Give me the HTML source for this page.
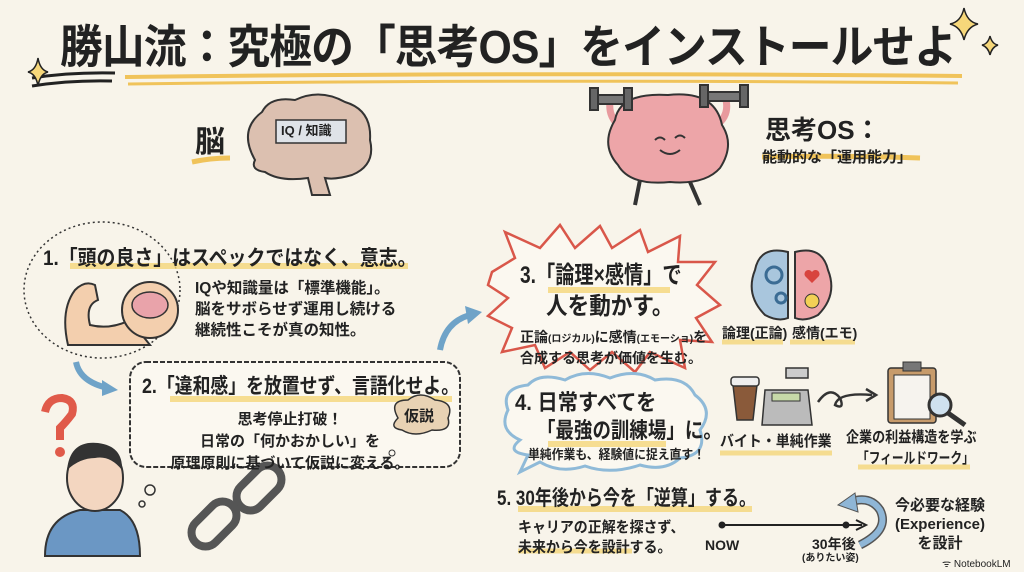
<!DOCTYPE html>
<html><head><meta charset="utf-8">
<style>
body{margin:0;width:1024px;height:572px;overflow:hidden;background:#f8f4ea;font-family:"Liberation Sans","Noto Sans CJK JP",sans-serif;color:#222;}
.t{position:absolute;white-space:nowrap;font-weight:bold;line-height:1;transform-origin:0 0;}
</style></head><body>
<svg width="1024" height="572" style="position:absolute;left:0;top:0">
<path d="M125 77 Q540 72 962 76" stroke="#f0c35a" stroke-width="4" fill="none"/>
<path d="M128 84 Q540 79 958 83" stroke="#f0c35a" stroke-width="3" fill="none"/>
<path d="M32 78 Q70 72 115 73" stroke="#222" stroke-width="3" fill="none"/>
<path d="M32 86 Q70 80 112 81" stroke="#222" stroke-width="3" fill="none"/>
<g fill="#f6d77a" stroke="#222" stroke-width="1.5">
<path d="M964 8 Q967 22 978 24 Q967 27 964 40 Q961 27 950 24 Q961 22 964 8Z"/>
<path d="M990 36 Q992 44 998 45 Q992 47 990 55 Q988 47 982 45 Q988 44 990 36Z"/>
<path d="M38 58 Q40 70 48 72 Q40 74 38 86 Q36 74 28 72 Q36 70 38 58Z"/>
</g>
<path d="M192 162 Q210 158 230 158" stroke="#f0c35a" stroke-width="5" fill="none"/>
<path d="M255 160 Q238 130 262 112 Q270 96 295 100 Q320 88 345 102 Q372 110 370 140 Q376 165 352 175 Q335 180 325 178 L330 195 L312 195 L308 178 Q280 182 265 172 Q250 170 255 160Z" fill="#dcc0b0" stroke="#333" stroke-width="2"/>
<rect x="276" y="120" width="70" height="23" fill="#dfe3e8" stroke="#333" stroke-width="1.5"/>
<g stroke="#333" stroke-width="2">
<path d="M622 128 Q608 118 610 102 M712 128 Q730 118 726 100" stroke-width="7" stroke="#e89a9e" fill="none"/>
<path d="M615 120 Q620 92 668 95 Q715 90 722 125 Q735 145 720 168 Q705 185 670 182 Q630 186 618 165 Q600 145 615 120Z" fill="#eda5a8"/>
<path d="M640 180 L635 205 M690 182 L700 205" fill="none" stroke-width="4"/>
<rect x="593" y="95" width="36" height="9" fill="#777"/>
<rect x="590" y="88" width="8" height="22" fill="#666"/><rect x="624" y="88" width="8" height="22" fill="#666"/>
<rect x="703" y="92" width="42" height="9" fill="#777"/>
<rect x="700" y="85" width="8" height="22" fill="#666"/><rect x="740" y="85" width="8" height="22" fill="#666"/>
</g>
<path d="M655 140 q5-5 10 0 M675 138 q5-5 10 0 M660 150 q10 8 20 0" stroke="#333" stroke-width="2" fill="none"/>
<path d="M762 157 Q840 155 920 158" stroke="#f0c35a" stroke-width="5" fill="none"/>
<ellipse cx="102" cy="290" rx="78" ry="68" fill="none" stroke="#333" stroke-width="1.5" stroke-dasharray="2 3"/>
<path d="M70 266 L408 266" stroke="#f5d77a" stroke-width="6" opacity=".8"/>
<path d="M68 345 Q60 310 75 290 Q85 280 95 285 L98 300 Q85 305 90 325 Q110 330 130 320 L150 345 Z" fill="#f3cfae" stroke="#333" stroke-width="2"/>
<circle cx="150" cy="310" r="28" fill="#f3cfae" stroke="#333" stroke-width="2"/>
<ellipse cx="150" cy="305" rx="18" ry="13" fill="#e9a3aa" stroke="#333" stroke-width="1.5"/>
<path d="M76 362 Q80 382 108 388" stroke="#6fa3c8" stroke-width="6" fill="none"/>
<path d="M102 380 L118 390 L102 396Z" fill="#6fa3c8"/>
<path d="M440 350 Q445 322 470 315" stroke="#6fa3c8" stroke-width="6" fill="none"/>
<path d="M465 306 L482 312 L468 324Z" fill="#6fa3c8"/>
<rect x="130" y="362" width="330" height="105" rx="16" fill="#fbf8f0" stroke="#333" stroke-width="2" stroke-dasharray="5 2"/>
<path d="M170 399 L452 399" stroke="#f5d77a" stroke-width="6" opacity=".8"/>
<path d="M398 418 Q388 400 408 400 Q420 390 435 400 Q455 402 448 418 Q452 432 432 430 Q415 438 402 430 Q388 428 398 418Z" fill="#e8d2b4" stroke="#333" stroke-width="1.5"/>
<circle cx="392" cy="453" r="3" fill="none" stroke="#333"/><circle cx="386" cy="460" r="2" fill="none" stroke="#333"/>
<path d="M45 412 Q48 398 62 398 Q76 400 72 414 Q66 422 60 428 L60 440" stroke="#e05a4a" stroke-width="8" fill="none"/>
<circle cx="60" cy="452" r="5" fill="#e05a4a"/>
<path d="M45 556 Q45 518 80 510 L120 510 Q140 520 140 556Z" fill="#6b97c4" stroke="#333" stroke-width="2"/>
<ellipse cx="95" cy="478" rx="28" ry="33" fill="#f3d6c0" stroke="#333" stroke-width="2"/>
<path d="M67 470 Q70 440 98 443 Q123 446 122 470 Q110 455 95 458 Q80 458 67 470Z" fill="#333"/>
<circle cx="150" cy="490" r="5" fill="none" stroke="#333" stroke-width="1.5"/><circle cx="142" cy="504" r="3" fill="none" stroke="#333" stroke-width="1.5"/>
<g fill="none" stroke="#555" stroke-width="8">
<rect x="245" y="462" width="28" height="52" rx="14" transform="rotate(45 259 488)"/>
<rect x="200" y="498" width="28" height="52" rx="14" transform="rotate(45 214 524)"/>
</g>
<path d="M492 272 L515 258 L505 232 L540 248 L560 225 L575 248 L600 226 L612 248 L640 230 L648 252 L680 236 L678 262 L715 262 L697 285 L720 305 L696 318 L712 342 L680 340 L685 368 L650 352 L635 372 L612 352 L590 370 L570 352 L545 368 L535 345 L502 352 L512 328 L488 316 L508 298 L488 285Z" fill="#fbf8f0" stroke="#d9574a" stroke-width="2.5"/>
<path d="M548 290 L670 290" stroke="#f5d77a" stroke-width="6" opacity=".8"/>
<path d="M788 252 Q760 245 755 270 Q745 295 765 315 Q778 322 788 318Z" fill="#a9c6dd" stroke="#333" stroke-width="2"/>
<path d="M795 252 Q822 245 828 270 Q838 295 818 315 Q805 322 795 318Z" fill="#eda5a8" stroke="#333" stroke-width="2"/>
<circle cx="774" cy="275" r="8" fill="none" stroke="#3b6c94" stroke-width="3"/>
<circle cx="781" cy="298" r="5" fill="none" stroke="#3b6c94" stroke-width="3"/>
<path d="M812 283 l-7-7 a4 4 0 0 1 7-4 a4 4 0 0 1 7 4z" fill="#d8443e"/>
<circle cx="812" cy="301" r="7" fill="#f2d055" stroke="#333" stroke-width="1"/>
<path d="M722 342 L783 342 M790 342 L855 342" stroke="#f5d77a" stroke-width="5" opacity=".8"/>
<path d="M520 440 Q498 430 508 410 Q500 388 528 385 Q540 372 565 380 Q585 368 610 378 Q635 368 655 380 Q685 375 695 395 Q715 410 700 430 Q708 455 680 458 Q665 472 640 465 Q610 475 585 466 Q560 474 540 462 L520 472 L528 455 Q505 452 520 440Z" fill="#fbf8f0" stroke="#8fbad8" stroke-width="3"/>
<path d="M548 444 L666 444" stroke="#f5d77a" stroke-width="6" opacity=".8"/>
<path d="M733 385 L757 385 L753 420 L737 420Z" fill="#8a5a3a" stroke="#333" stroke-width="1.5"/>
<rect x="731" y="377" width="28" height="9" rx="3" fill="#eee" stroke="#333" stroke-width="1.5"/>
<path d="M765 390 L808 390 L812 425 L762 425Z" fill="#bbb" stroke="#333" stroke-width="1.5"/>
<rect x="786" y="368" width="22" height="10" fill="#ccc" stroke="#333" stroke-width="1.5"/>
<rect x="772" y="393" width="28" height="8" fill="#c6d9a8" stroke="#333" stroke-width="1"/>
<path d="M720 453 L832 453" stroke="#f5d77a" stroke-width="5" opacity=".8"/>
<path d="M818 402 Q830 385 840 398 Q845 410 835 405 Q838 392 872 395" stroke="#333" stroke-width="2.5" fill="none"/>
<path d="M866 389 L876 395 L866 401" stroke="#333" stroke-width="2.5" fill="none"/>
<rect x="888" y="368" width="48" height="55" rx="3" fill="#c79b6b" stroke="#333" stroke-width="1.5"/>
<rect x="894" y="375" width="36" height="44" fill="#f6f3ee" stroke="#333" stroke-width="1"/>
<rect x="903" y="362" width="18" height="9" fill="#777" stroke="#333"/>
<circle cx="940" cy="405" r="11" fill="#cfe1ef" stroke="#333" stroke-width="3"/>
<path d="M948 413 L965 425" stroke="#333" stroke-width="5"/>
<path d="M858 467 L970 467" stroke="#f5d77a" stroke-width="5" opacity=".8"/>
<path d="M518 509 L752 509" stroke="#f5d77a" stroke-width="6" opacity=".8"/>
<path d="M518 551 L632 551" stroke="#f5d77a" stroke-width="5" opacity=".8"/>
<path d="M722 525 L862 525" stroke="#222" stroke-width="2"/>
<path d="M856 520 L866 525 L856 530" stroke="#222" stroke-width="2" fill="none"/>
<circle cx="722" cy="525" r="3.5" fill="#222"/><circle cx="846" cy="525" r="3.5" fill="#222"/>
<path d="M860 545 Q890 530 880 510 Q870 495 850 502" stroke="#555" stroke-width="9" fill="none"/>
<path d="M860 545 Q890 530 880 510 Q870 495 850 502" stroke="#8fb6d6" stroke-width="6" fill="none"/>
<path d="M855 493 L838 505 L858 512Z" fill="#8fb6d6" stroke="#555" stroke-width="1"/>
</svg>
<div class="t" style="left:60px;top:24px;font-size:46px;letter-spacing:-1px;transform:scaleX(0.93);">勝山流：究極の「思考OS」をインストールせよ</div>
<div class="t" style="left:195px;top:128px;font-size:30px;">脳</div>
<div class="t" style="left:281px;top:124px;font-size:13px;">IQ / 知識</div>
<div class="t" style="left:765px;top:117px;font-size:26px;">思考OS：</div>
<div class="t" style="left:762px;top:150px;font-size:15px;">能動的な「運用能力」</div>
<div class="t" style="left:43px;top:248px;font-size:21px;transform:scaleX(0.9);">1.「頭の良さ」はスペックではなく、意志。</div>
<div class="t" style="left:195px;top:278px;font-size:15.5px;line-height:21px;">IQや知識量は「標準機能」。<br>脳をサボらせず運用し続ける<br>継続性こそが真の知性。</div>
<div class="t" style="left:142px;top:376px;font-size:21px;transform:scaleX(0.85);">2.「違和感」を放置せず、言語化せよ。</div>
<div class="t" style="left:155px;top:409px;width:270px;text-align:center;font-size:15px;line-height:22px;">思考停止打破！<br>日常の「何かおかしい」を<br>原理原則に基づいて仮説に変える。</div>
<div class="t" style="left:404px;top:409px;font-size:15px;">仮説</div>
<div class="t" style="left:520px;top:264px;font-size:24px;transform:scaleX(0.8);">3.「論理×感情」で</div>
<div class="t" style="left:546px;top:295px;font-size:24px;transform:scaleX(0.9);">人を動かす。</div>
<div class="t" style="left:520px;top:328px;font-size:14px;line-height:19px;">正論<span style="font-size:10px">(ロジカル)</span>に感情<span style="font-size:10px">(エモーショ)</span>を<br>合成する思考が価値を生む。</div>
<div class="t" style="left:722px;top:326px;font-size:14px;">論理(正論)</div>
<div class="t" style="left:792px;top:326px;font-size:14px;">感情(エモ)</div>
<div class="t" style="left:515px;top:392px;font-size:22px;transform:scaleX(0.92);">4. 日常すべてを</div>
<div class="t" style="left:537px;top:420px;font-size:22px;transform:scaleX(0.84);">「最強の訓練場」に。</div>
<div class="t" style="left:528px;top:448px;font-size:13px;transform:scaleX(0.91);">単純作業も、経験値に捉え直す！</div>
<div class="t" style="left:720px;top:434px;font-size:15px;transform:scaleX(0.93);">バイト・単純作業</div>
<div class="t" style="left:846px;top:430px;font-size:15px;transform:scaleX(0.87);">企業の利益構造を学ぶ</div>
<div class="t" style="left:857px;top:451px;font-size:15px;transform:scaleX(0.78);">「フィールドワーク」</div>
<div class="t" style="left:497px;top:488px;font-size:21px;transform:scaleX(0.81);">5. 30年後から今を「逆算」する。</div>
<div class="t" style="left:518px;top:518px;font-size:15px;line-height:20px;transform:scaleX(0.93);">キャリアの正解を探さず、<br>未来から今を設計する。</div>
<div class="t" style="left:705px;top:538px;font-size:14px;">NOW</div>
<div class="t" style="left:812px;top:537px;font-size:14px;">30年後</div>
<div class="t" style="left:802px;top:554px;font-size:10px;">(ありたい姿)</div>
<div class="t" style="left:890px;top:496px;width:100px;text-align:center;font-size:15px;line-height:19px;">今必要な経験<br>(Experience)<br>を設計</div>
<div class="t" style="left:942px;top:560px;font-size:10px;font-weight:normal;">ᯤ NotebookLM</div>
</body></html>
